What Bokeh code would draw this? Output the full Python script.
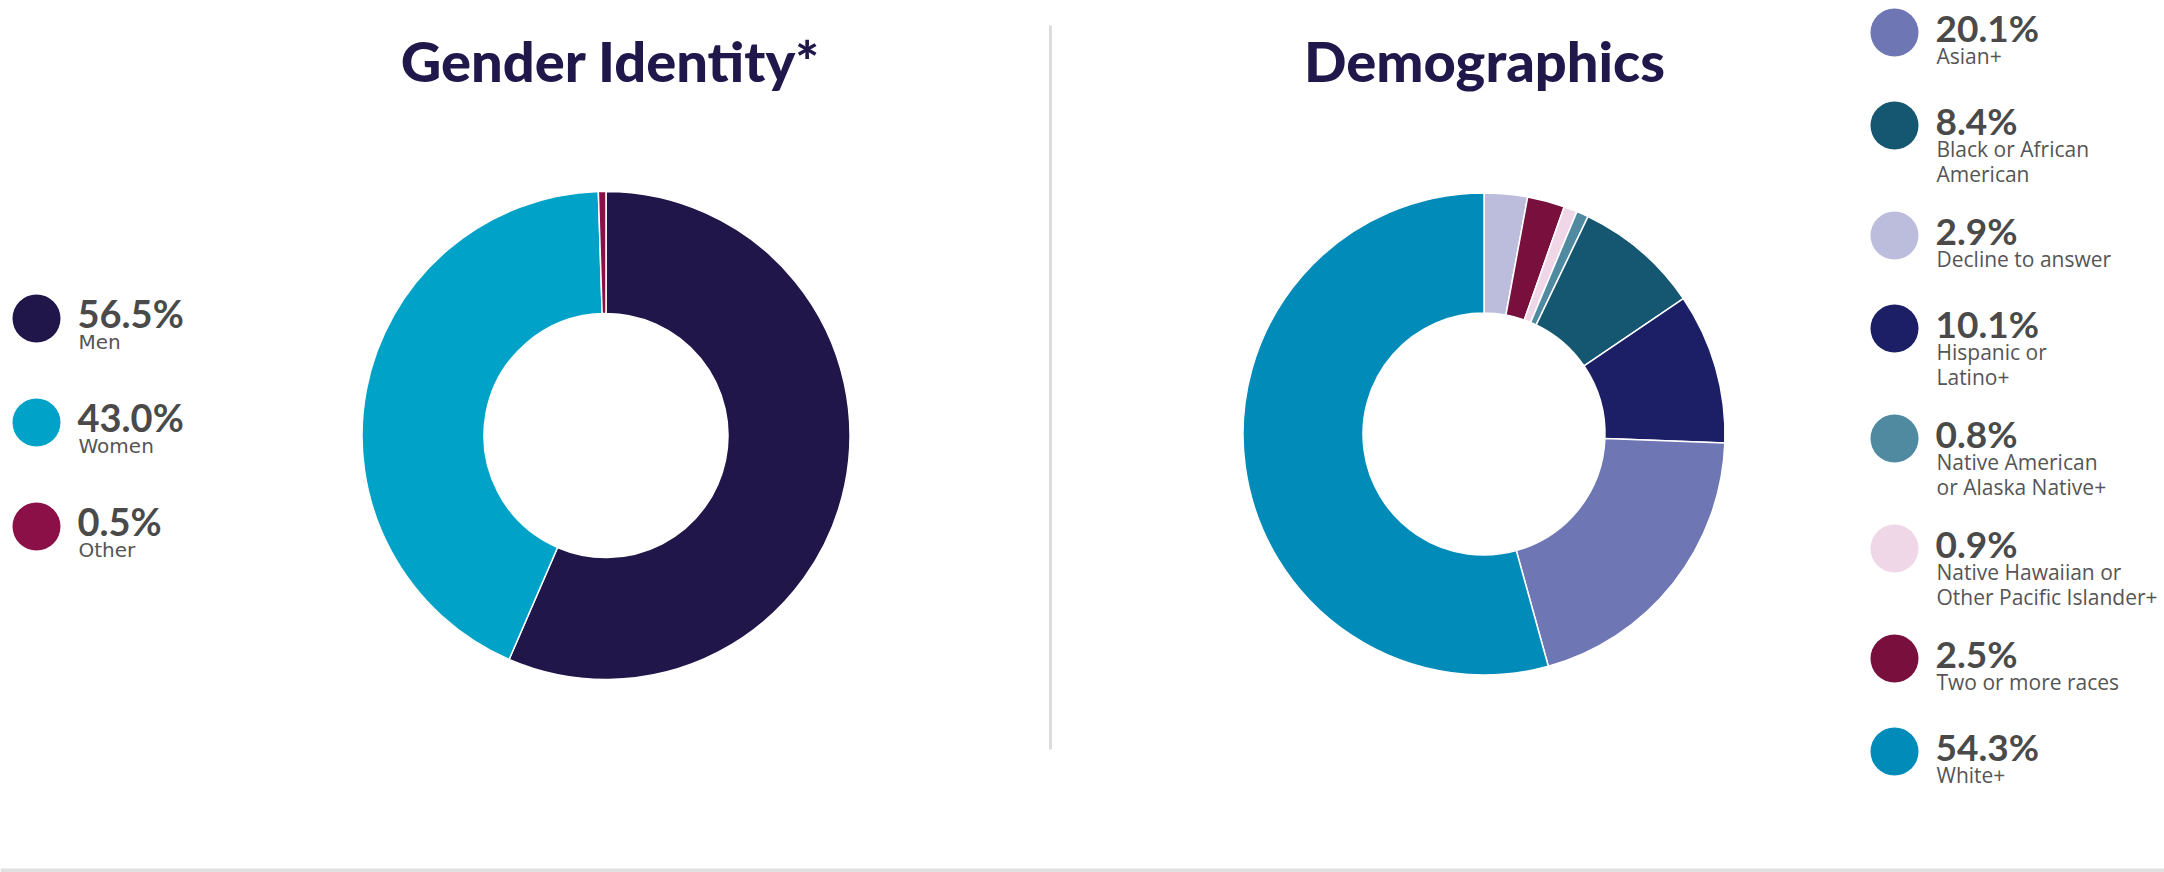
import math
from bokeh.plotting import figure
from bokeh.models import Range1d, ColumnDataSource
from bokeh.core.properties import value
from bokeh.embed import file_html
from bokeh.resources import INLINE

# ---------------- data ----------------
gender_title = "Gender Identity*"
gender_labels = ["Men", "Women", "Other"]
gender_values = [56.5, 43.0, 0.5]
gender_colors = ["#20164a", "#00a3c7", "#8c1048"]

demo_title = "Demographics"
demo_labels = ["Asian+", "Black or African\nAmerican", "Decline to answer",
               "Hispanic or\nLatino+", "Native American\nor Alaska Native+",
               "Native Hawaiian or\nOther Pacific Islander+",
               "Two or more races", "White+"]
demo_values = [20.1, 8.4, 2.9, 10.1, 0.8, 0.9, 2.5, 54.3]
demo_colors = ["#6e76b4", "#155670", "#bcbddc", "#1c1f66",
               "#4f8aa1", "#efd7e8", "#780f3d", "#008bb8"]
# order of slices, clockwise from 12 o'clock (indices into the lists above)
demo_pie_order = [2, 6, 5, 4, 1, 3, 0, 7]

# ---------------- layout ----------------
W, H = 2164, 872
TITLE_COLOR = "#20174a"
PCT_COLOR = "#4a4a4a"
LBL_COLOR = "#555555"
BL = 0.41  # baseline correction, in em

p = figure(width=W, height=H, output_backend="svg", toolbar_location=None,
           x_range=Range1d(0, W), y_range=Range1d(0, H),
           min_border=0, outline_line_color=None)
p.axis.visible = False
p.grid.visible = False
p.background_fill_color = "white"
p.border_fill_color = "white"


def donut(cx, cy, values, colors, order, r_in, r_out):
    total = sum(values)
    starts, ends, cols = [], [], []
    cum = 0.0
    for i in order:
        a0 = math.pi / 2 - 2 * math.pi * cum / total
        cum += values[i]
        a1 = math.pi / 2 - 2 * math.pi * cum / total
        starts.append(a0)
        ends.append(a1)
        cols.append(colors[i])
    src = ColumnDataSource(dict(x=[cx] * len(order), y=[cy] * len(order),
                                s=starts, e=ends, c=cols))
    p.annular_wedge(x="x", y="y", inner_radius=r_in, outer_radius=r_out,
                    inner_radius_units="screen", outer_radius_units="screen",
                    start_angle="s", end_angle="e", direction="clock",
                    fill_color="c", line_color="white", line_width=1.5,
                    source=src)


def legend(x_dot, x_txt, y_start, labels, values, colors, gap1, gap_extra,
           pct_size, lbl_size, line_h, lbl_font):
    ys = []
    y = y_start
    for lab in labels:
        ys.append(y)
        y -= gap1 + gap_extra * (len(lab.split("\n")) - 1)
    p.scatter(x=[x_dot] * len(ys), y=ys, size=48, marker="circle",
              fill_color=colors, line_color=None)
    p.text(x=[x_txt] * len(ys), y=[yy - 10 + BL * pct_size for yy in ys],
           text=[f"{v:.1f}%" for v in values], text_font=value("Lato"),
           text_font_style="bold", text_font_size=f"{pct_size}px",
           text_color=PCT_COLOR, text_baseline="alphabetic", text_align="left")
    lx, ly, lt = [], [], []
    for yy, lab in zip(ys, labels):
        for k, line in enumerate(lab.split("\n")):
            lx.append(x_txt + 1)
            ly.append(yy - 32 - k * line_h + BL * lbl_size)
            lt.append(line)
    p.text(x=lx, y=ly, text=lt, text_font=value(lbl_font),
           text_font_size=f"{lbl_size}px",
           text_color=LBL_COLOR, text_baseline="alphabetic", text_align="left")


# donuts
donut(605.5, 437, gender_values, gender_colors, [0, 1, 2], 122, 244)
donut(1483.5, 438.5, demo_values, demo_colors, demo_pie_order, 121, 241)

# titles
p.text(x=[610, 1484], y=[789 + BL * 56] * 2, text=[gender_title, demo_title],
       text_font=value("Lato Black"), text_font_size="56px",
       text_color=TITLE_COLOR, text_align="center", text_baseline="alphabetic")

# divider
p.segment(x0=[1050], y0=[847], x1=[1050], y1=[123], line_color="#dcdcdc",
          line_width=3)

# bottom rule
p.quad(left=[0], right=[W], bottom=[0], top=[4], fill_color="#e0e0e0",
       line_color=None)

# legends
legend(36, 77, 554, gender_labels, gender_values, gender_colors, 104, 0,
       38, 20, 25, "DejaVu Sans")
legend(1894, 1935, 840, demo_labels, demo_values, demo_colors, 93, 17,
       37, 21, 25, "Open Sans")

open("out.html", "w").write(file_html(p, INLINE))
